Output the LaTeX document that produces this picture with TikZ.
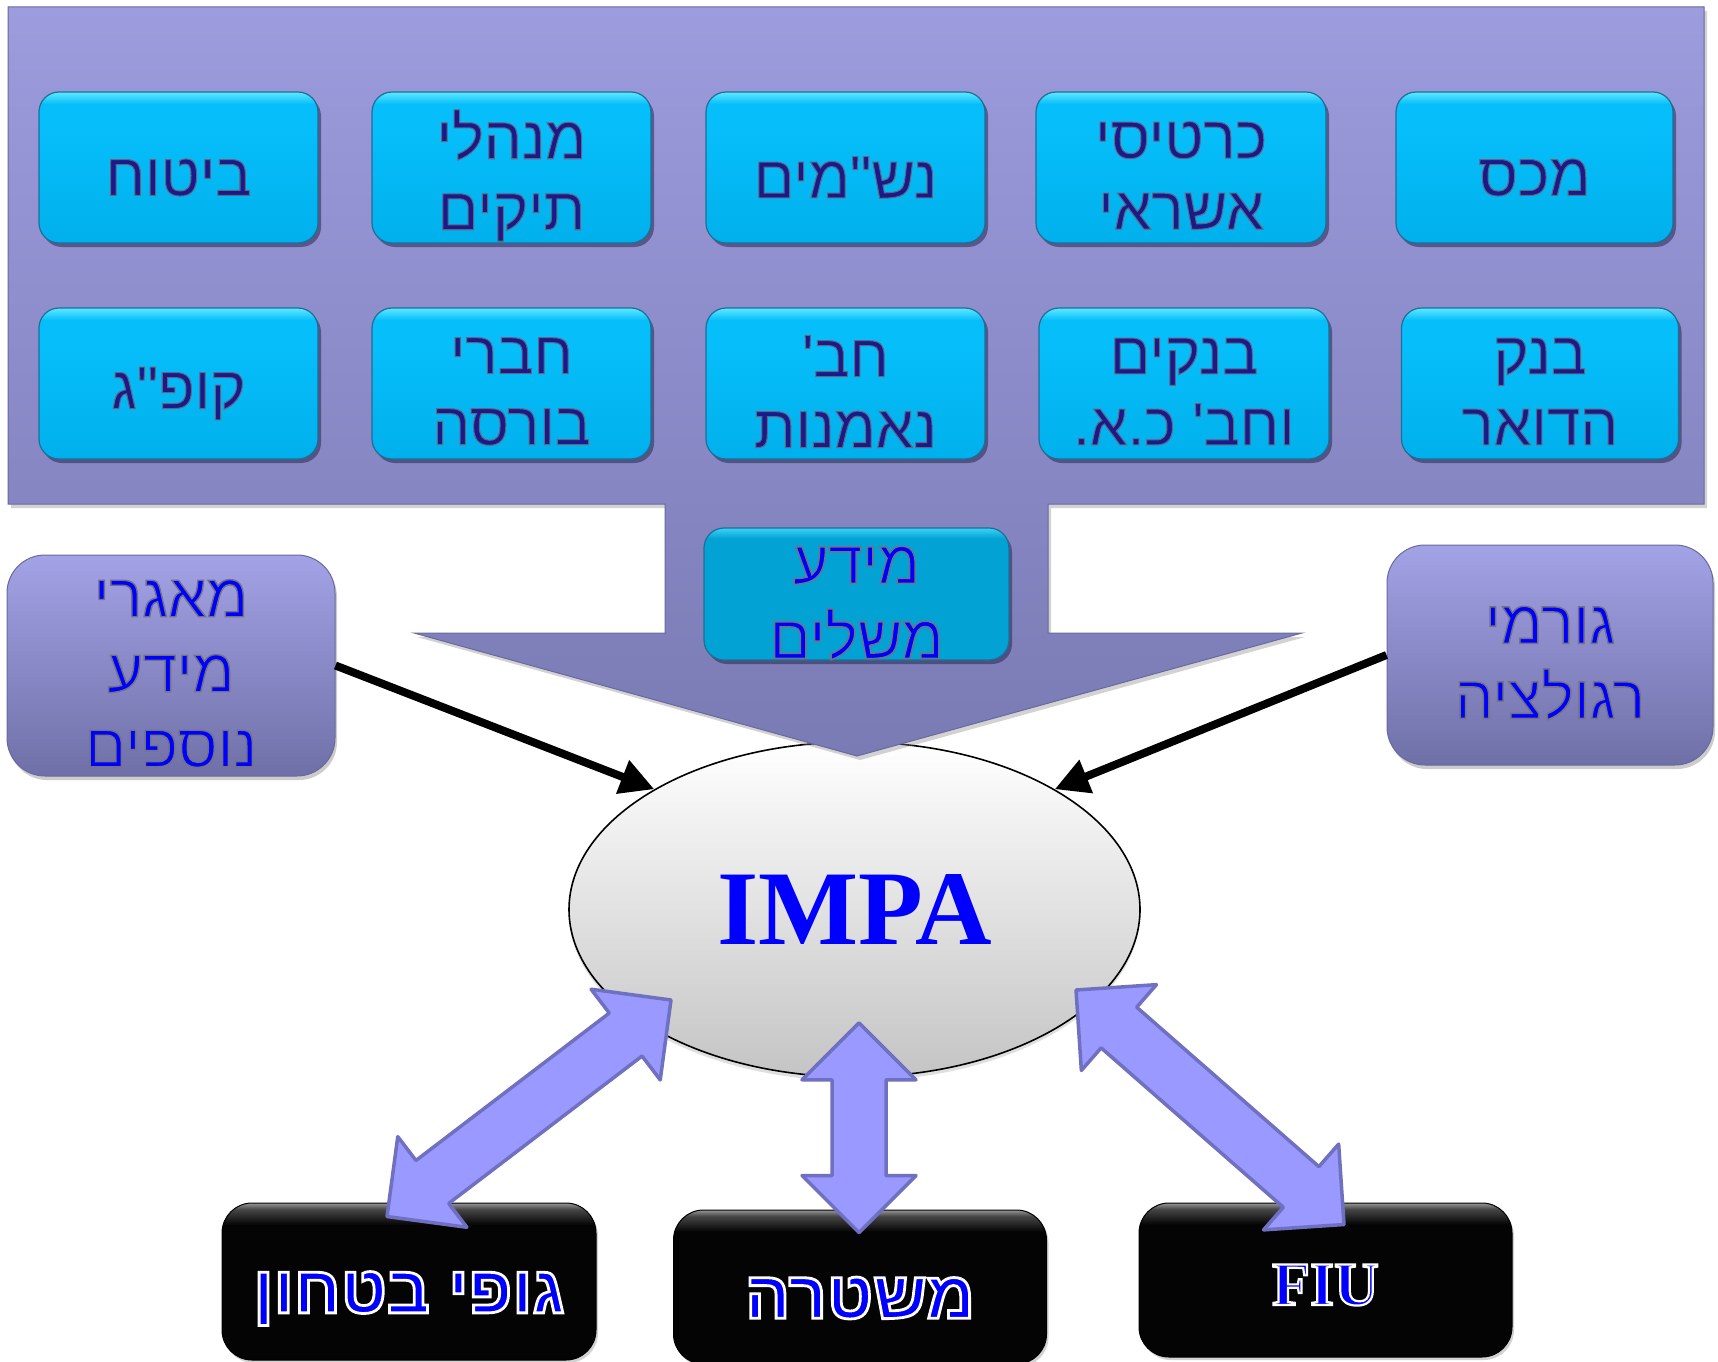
\documentclass[tikz,border=0pt]{standalone}
\usepackage{fontspec}
\usetikzlibrary{calc,shapes.geometric,shadows,arrows.meta}
\TeXXeTstate=1
\newfontfamily\heb[Script=Hebrew]{Liberation Sans}
\newfontfamily\tnr{Liberation Serif}
\newcommand\hb[1]{\beginR #1\endR}
% outlined text via PDF text render mode 2 (fill, then stroke)
\newcommand\olw[1]{\special{pdf:literal 1 1 1 RG 2.8 w 2 Tr}#1\special{pdf:literal 0 Tr}}
\newcommand\olf[1]{\special{pdf:literal 1 1 1 RG 2.2 w 2 Tr}#1\special{pdf:literal 0 Tr}}
\newcommand\olg[1]{\special{pdf:literal 0.45 0.45 0.5 RG 1.4 w 2 Tr}#1\special{pdf:literal 0 Tr}}
\newcommand\olc[1]{\special{pdf:literal 0.40 0.40 0.48 RG 1.0 w 2 Tr}#1\special{pdf:literal 0 Tr}}
\newcommand\hg[1]{\olg{\hb{#1}}}
\newcommand\hc[1]{\olc{\hb{#1}}}
\definecolor{cyD}{RGB}{0,176,236}
\definecolor{cyM}{RGB}{6,190,250}
\definecolor{cyL}{RGB}{95,232,255}
\definecolor{cyE}{RGB}{30,110,150}
\definecolor{navyT}{RGB}{26,26,140}
\definecolor{pTop}{RGB}{156,156,222}
\definecolor{pBot}{RGB}{122,122,180}
\definecolor{pEdge}{RGB}{105,105,160}
\definecolor{sTop}{RGB}{162,162,230}
\definecolor{sBot}{RGB}{112,112,168}
\definecolor{mD}{RGB}{2,162,212}
\definecolor{mL}{RGB}{60,210,245}
\definecolor{bblue}{RGB}{0,0,255}
\definecolor{arrF}{RGB}{153,153,255}
\definecolor{arrE}{RGB}{112,112,192}
\definecolor{bk}{RGB}{4,4,4}
\definecolor{bkG}{RGB}{70,70,70}
\definecolor{bkL}{RGB}{150,150,150}
\definecolor{ellB}{RGB}{196,196,196}
\definecolor{shd}{RGB}{40,40,80}
\pgfdeclareverticalshading{cyansh}{100bp}{color(0bp)=(cyD); color(25bp)=(cyD); color(62bp)=(cyM); color(71bp)=(cyM); color(75bp)=(cyL); color(100bp)=(cyL)}
\pgfdeclareverticalshading{mashsh}{100bp}{color(0bp)=(mD); color(25bp)=(mD); color(71bp)=(mD); color(75bp)=(mL); color(100bp)=(mL)}
\pgfdeclareverticalshading{blacksh}{100bp}{color(0bp)=(bk); color(25bp)=(bk); color(68bp)=(bk); color(73bp)=(bkG); color(75bp)=(bkL); color(100bp)=(bkL)}
\newcommand\cfont{\heb\fontsize{60}{71}\selectfont}
\newcommand\sfont{\heb\fontsize{61}{75}\selectfont}
\newcommand\kfont{\heb\bfseries\fontsize{67}{72}\selectfont}
\newcommand\dblarrow[2]{%
 \path[darr] let \p1=(#1), \p2=(#2), \n1={atan2(\y2-\y1,\x2-\x1)} in
  (\p1) -- ($(\p1)+(\n1:57pt)+(\n1+90:57pt)$) -- ($(\p1)+(\n1:57pt)+(\n1+90:27pt)$)
  -- ($(\p2)+(\n1+180:57pt)+(\n1+90:27pt)$) -- ($(\p2)+(\n1+180:57pt)+(\n1+90:57pt)$)
  -- (\p2) -- ($(\p2)+(\n1+180:57pt)+(\n1-90:57pt)$) -- ($(\p2)+(\n1+180:57pt)+(\n1-90:27pt)$)
  -- ($(\p1)+(\n1:57pt)+(\n1-90:27pt)$) -- ($(\p1)+(\n1:57pt)+(\n1-90:57pt)$) -- cycle;}
\begin{document}
\begin{tikzpicture}[x=1pt,y=-1pt,
  cbox/.style={rectangle, rounded corners=20pt, minimum width=279pt, minimum height=151pt,
    inner sep=0pt, draw=cyE, line width=1.2pt, shade, shading=cyansh,
    drop shadow={opacity=0.55, shadow xshift=3pt, shadow yshift=-4pt, fill=shd}},
  ctext/.style={text=navyT, align=center, font=\cfont, inner sep=0pt},
  sbox/.style={rectangle, rounded corners=38pt, inner sep=0pt, draw=pEdge, line width=1pt,
    top color=sTop, bottom color=sBot,
    drop shadow={opacity=0.4, shadow xshift=2pt, shadow yshift=-4pt}},
  stext/.style={text=bblue, align=center, font=\sfont, inner sep=0pt},
  kbox/.style={rectangle, rounded corners=30pt, inner sep=0pt, draw=black, line width=1pt,
    shade, shading=blacksh,
    drop shadow={opacity=0.35, shadow xshift=2pt, shadow yshift=-3pt}},
  ktext/.style={text=bblue, align=center, font=\kfont, inner sep=0pt},
  callout/.style={top color=pTop, bottom color=pBot, draw=pEdge, line width=1pt,
    drop shadow={opacity=0.35, shadow xshift=3pt, shadow yshift=-4pt}},
  blk/.style={line width=8pt, -{Triangle[length=34pt,width=34pt]}},
  darr/.style={fill=arrF, draw=arrE, line width=3.5pt, line join=round}
]
\useasboundingbox (0,0) rectangle (1718,1362);
\fill[white] (0,0) rectangle (1718,1362);

% central ellipse
\node[ellipse, draw=black, line width=1.6pt, minimum width=571pt, minimum height=335pt,
  top color=white, middle color=black!5, bottom color=ellB,
  drop shadow={opacity=0.25, shadow xshift=0pt, shadow yshift=-4pt},
  text=bblue, font=\tnr\bfseries\fontsize{106}{110}\selectfont] (impa) at (854.5,909.5) {IMPA};

% big callout
\path[callout] (8,7) -- (1704,7) -- (1704,504) -- (1048,504) -- (1048,633) -- (1302,633)
  -- (857,756) -- (414,633) -- (665,633) -- (665,504) -- (8,504) -- cycle;

% cyan boxes
\node[cbox] (b11) at (178.5,167.5) {};
\node[cbox] (b12) at (511.5,167.5) {};
\node[cbox] (b13) at (845.5,167.5) {};
\node[cbox, minimum width=290pt] (b14) at (1181,167.5) {};
\node[cbox, minimum width=277pt] (b15) at (1534.5,167.5) {};
\node[cbox] (b21) at (178.5,383.5) {};
\node[cbox] (b22) at (511.5,383.5) {};
\node[cbox] (b23) at (845.5,383.5) {};
\node[cbox, minimum width=290pt] (b24) at (1184,383.5) {};
\node[cbox, minimum width=277pt] (b25) at (1540,383.5) {};
\node[ctext] (t11) at ($(b11.center)+(0,10)$) {\hc{ביטוח}};
\node[ctext] (t12) at ($(b12.center)+(0,8)$) {\hc{מנהלי}\\\hc{תיקים}};
\node[ctext] (t13) at ($(b13.center)+(0,10)$) {\hc{נש"מים}};
\node[ctext] (t14) at ($(b14.center)+(0,8)$) {\hc{כרטיסי}\\\hc{אשראי}};
\node[ctext] (t15) at ($(b15.center)+(0,10)$) {\hc{מכס}};
\node[ctext] (t21) at ($(b21.center)+(0,10)$) {\hc{קופ"ג}};
\node[ctext] (t22) at ($(b22.center)+(0,8)$) {\hc{חברי}\\\hc{בורסה}};
\node[ctext] (t23) at ($(b23.center)+(0,8)$) {\hc{חב'}\\\hc{נאמנות}};
\node[ctext] (t24) at ($(b24.center)+(0,8)$) {\hc{בנקים}\\\hc{וחב' כ.א.}};
\node[ctext] (t25) at ($(b25.center)+(0,8)$) {\hc{בנק}\\\hc{הדואר}};

\node[cbox, minimum width=305pt, minimum height=132pt, shading=mashsh] (mash) at (856.5,594) {};
\node[stext] (tmash) at ($(mash.center)+(0,9)$) {\hg{מידע}\\\hg{משלים}};

% side boxes
\node[sbox, minimum width=328pt, minimum height=221pt] (maagar) at (171,665.5) {};
\node[stext] (tmaagar) at ($(maagar.center)+(0,8)$) {\hg{מאגרי}\\\hg{מידע}\\\hg{נוספים}};
\node[sbox, minimum width=326pt, minimum height=220pt] (gorem) at (1550,655) {};
\node[stext] (tgorem) at ($(gorem.center)+(0,8)$) {\hg{גורמי}\\\hg{רגולציה}};

% black arrows
\draw[blk] (maagar.east) -- (impa.149);
\draw[blk] (gorem.west) -- (impa.31);

% black boxes
\node[kbox, minimum width=374pt, minimum height=157pt] (gufei) at (409,1281.5) {};
\node[ktext] (tgufei) at ($(gufei.center)+(0,17)$) {\olw{\hb{גופי בטחון}}};
\node[kbox, minimum width=373pt, minimum height=154pt] (mishtara) at (860,1287) {};
\node[ktext] (tmishtara) at ($(mishtara.center)+(0,11)$) {\olw{\hb{משטרה}}};
\node[kbox, minimum width=373pt, minimum height=154pt] (fiu) at (1325.5,1280) {};
\node[ktext, font=\tnr\bfseries\fontsize{62}{70}\selectfont] (tfiu) at ($(fiu.center)+(0,5)$) {\olf{FIU}};

% double arrows
\coordinate (dL1) at ($(impa.center)+(-183.5,90.5)$);
\coordinate (dL2) at ($(gufei.north)+(-22,14)$);
\coordinate (dM1) at ($(impa.south)+(4.5,-55)$);
\coordinate (dM2) at ($(mishtara.north)+(-1,23)$);
\coordinate (dR1) at ($(impa.center)+(221.5,80.5)$);
\coordinate (dR2) at ($(fiu.north)+(18.5,22)$);
\dblarrow{dL2}{dL1}
\dblarrow{dM1}{dM2}
\dblarrow{dR1}{dR2}
\end{tikzpicture}
\end{document}
